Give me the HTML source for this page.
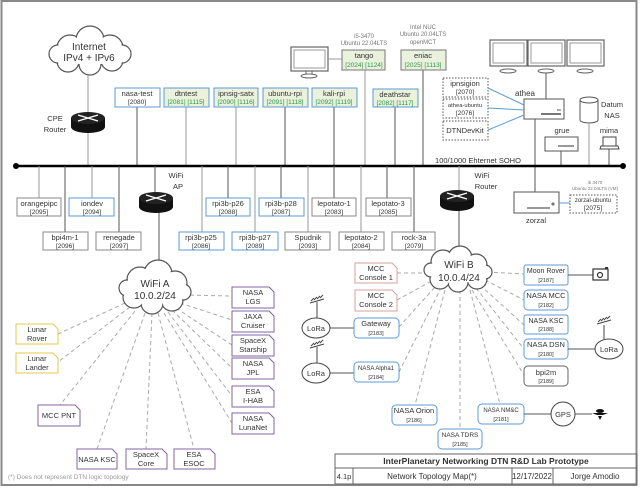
<!DOCTYPE html>
<html><head><meta charset="utf-8"><style>
html,body{margin:0;padding:0;background:#fff}
svg{display:block}
text{font-family:"Liberation Sans",sans-serif;font-size:7.5px;fill:#333;text-anchor:middle}
.g{fill:#2a9a4a}
.s{font-size:6px;fill:#777}
.b{stroke:#5b9bd5;fill:#fff;stroke-width:1}
.gr{stroke:#888;fill:#fff;stroke-width:1}
.gn{stroke:#5b9bd5;fill:#eaf1dd;stroke-width:1}
.gt{stroke:#777;fill:#eaf1dd;stroke-width:1}
.ln{stroke:#555;stroke-width:1;fill:none}
.lg{stroke:#999;stroke-width:1;fill:none}
.d{stroke:#aaa;stroke-width:1;stroke-dasharray:4,3;fill:none}
.p{stroke:#8064a2;fill:#fff}
.y{stroke:#e6c84a;fill:#fff}
.r{stroke:#d8a0a0;fill:#fff}
.dot{stroke:#555;fill:#fff;stroke-dasharray:1.5,1.5}
</style></head><body>
<svg width="640" height="488" viewBox="0 0 640 488" xmlns="http://www.w3.org/2000/svg">
<rect x="1.5" y="1" width="635" height="484" fill="#fff" stroke="#888" stroke-width="2"/>

<!-- Internet cloud -->
<g fill="#fff" stroke="#555" stroke-width="1.2">
<circle cx="70" cy="48" r="13"/><circle cx="90" cy="40" r="14"/><circle cx="110" cy="48" r="13"/><circle cx="112" cy="60" r="11"/><circle cx="90" cy="64" r="11"/><circle cx="68" cy="61" r="11"/><circle cx="58" cy="54" r="9"/><circle cx="122" cy="54" r="9"/>
</g>
<g fill="#fff"><circle cx="70" cy="48" r="12"/><circle cx="90" cy="40" r="13"/><circle cx="110" cy="48" r="12"/><circle cx="112" cy="60" r="10"/><circle cx="90" cy="64" r="10"/><circle cx="68" cy="61" r="10"/><circle cx="58" cy="54" r="8"/><circle cx="122" cy="54" r="8"/><rect x="62" y="44" width="56" height="20"/></g>
<text x="89" y="50" style="font-size:10px">Internet</text>
<text x="89" y="61" style="font-size:10px">IPv4 + IPv6</text>
<line class="lg" x1="88" y1="75" x2="88" y2="114"/>
<line class="lg" x1="88" y1="132" x2="88" y2="166"/>
<!-- CPE router -->
<g><rect x="71" y="118" width="34" height="9" fill="#111"/><ellipse cx="88" cy="127" rx="17" ry="6" fill="#111"/><ellipse cx="88" cy="118" rx="17" ry="6" fill="#222"/><path d="M78 115l20 6M98 115l-20 6" stroke="#fff" stroke-width="1.2"/></g>
<text x="55" y="121">CPE</text><text x="55" y="132">Router</text>

<!-- top boxes -->
<line class="ln" x1="137" y1="107" x2="137" y2="166"/>
<line class="lg" x1="186" y1="107" x2="186" y2="166"/>
<line class="lg" x1="236" y1="107" x2="236" y2="166"/>
<line class="ln" x1="285" y1="107" x2="285" y2="166"/>
<line class="ln" x1="334" y1="107" x2="334" y2="166"/>
<line class="lg" x1="365" y1="70" x2="365" y2="166"/>
<line class="ln" x1="395" y1="107" x2="395" y2="166"/>
<line class="ln" x1="423" y1="70" x2="423" y2="166"/>
<rect class="b" x="115" y="88" width="45" height="19"/><text x="137" y="96">nasa-test</text><text x="137" y="104" style="font-size:6.5px">[2080]</text>
<rect class="gn" x="164" y="88" width="45" height="19"/><text x="186" y="96">dtntest</text><text class="g" x="186" y="104" style="font-size:6.5px">[2081] [1115]</text>
<rect class="gn" x="214" y="88" width="44" height="19"/><text x="236" y="96">ipnsig-satx</text><text class="g" x="236" y="104" style="font-size:6.5px">[2090] [1116]</text>
<rect class="gn" x="263" y="88" width="45" height="19"/><text x="285" y="96">ubuntu-rpi</text><text class="g" x="285" y="104" style="font-size:6.5px">[2091] [1118]</text>
<rect class="gn" x="312" y="88" width="45" height="19"/><text x="334" y="96">kali-rpi</text><text class="g" x="334" y="104" style="font-size:6.5px">[2092] [1119]</text>
<rect class="gn" x="373" y="89" width="45" height="18"/><text x="395" y="97">deathstar</text><text class="g" x="395" y="105" style="font-size:6.5px">[2082] [1117]</text>

<!-- monitor + tango + eniac -->
<rect x="291" y="47" width="37" height="24" fill="#fff" stroke="#666" stroke-width="1.2"/><rect x="294" y="50" width="31" height="18" fill="none" stroke="#999"/>
<path d="M306 71v4M312 71v4" stroke="#666"/><ellipse cx="309" cy="76" rx="8" ry="2" fill="#fff" stroke="#666"/>
<line class="lg" x1="328" y1="59" x2="342" y2="59"/>
<text class="s" x="364" y="38">i5-3470</text><text class="s" x="364" y="45">Ubuntu 22.04LTS</text>
<rect class="gt" x="342" y="50" width="43" height="20"/><text x="364" y="58">tango</text><text class="g" x="364" y="67" style="font-size:6.5px">[2024] [1124]</text>
<text class="s" x="423" y="29">Intel NUC</text><text class="s" x="423" y="36">Ubuntu 20.04LTS</text><text class="s" x="423" y="44">openMCT</text>
<rect class="gt" x="401" y="50" width="45" height="20"/><text x="423" y="58">eniac</text><text class="g" x="423" y="67" style="font-size:6.5px">[2025] [1113]</text>

<!-- three monitors -->
<g fill="#fff" stroke="#666" stroke-width="1.2">
<rect x="490" y="40" width="37" height="26"/><rect x="528" y="40" width="37" height="26"/><rect x="567" y="40" width="37" height="26"/>
</g>
<g fill="none" stroke="#999"><rect x="493" y="43" width="31" height="20"/><rect x="531" y="43" width="31" height="20"/><rect x="570" y="43" width="31" height="20"/></g>
<g fill="#fff" stroke="#666"><ellipse cx="508" cy="71" rx="8" ry="2"/><ellipse cx="546" cy="71" rx="8" ry="2"/><ellipse cx="585" cy="71" rx="8" ry="2"/></g>
<line class="ln" x1="546" y1="73" x2="546" y2="99"/>
<text x="525" y="96" style="font-size:8px">athea</text>
<rect x="524" y="99" width="40" height="20" fill="#fff" stroke="#555"/><line x1="541" y1="114" x2="561" y2="114" stroke="#777" stroke-width="2"/><line x1="557" y1="110" x2="561" y2="110" stroke="#555"/>
<line class="ln" x1="535" y1="119" x2="535" y2="192"/>
<rect class="dot" x="443" y="78" width="45" height="19"/><text x="465" y="86">ipnsigion</text><text x="465" y="94" style="font-size:6.5px">[2070]</text>
<rect class="dot" x="443" y="99" width="45" height="19"/><text x="465" y="107" style="font-size:5.8px">athea-ubuntu</text><text x="465" y="115" style="font-size:6.5px">[2076]</text>
<rect class="dot" x="443" y="121" width="45" height="19"/><text x="465" y="133">DTNDevKit</text>
<g stroke="#5b9bd5" stroke-width="1"><line x1="488" y1="88" x2="524" y2="105"/><line x1="488" y1="108" x2="524" y2="110"/><line x1="488" y1="130" x2="524" y2="115"/></g>
<!-- NAS -->
<path d="M580 100v20a9 3 0 0 0 18 0v-20" fill="#fff" stroke="#555"/><ellipse cx="589" cy="100" rx="9" ry="3" fill="#fff" stroke="#555"/>
<text x="612" y="107">Datum</text><text x="612" y="118">NAS</text>
<line class="lg" x1="589" y1="123" x2="589" y2="166"/>
<text x="562" y="133">grue</text>
<rect x="545" y="137" width="33" height="14" fill="#fff" stroke="#555"/><line x1="558" y1="146" x2="574" y2="146" stroke="#777" stroke-width="1.5"/>
<line class="ln" x1="561" y1="151" x2="561" y2="166"/>
<text x="609" y="133">mima</text>
<rect x="603" y="137" width="13" height="9" fill="#fff" stroke="#444"/><path d="M601 146h17l1 3h-19z" fill="#fff" stroke="#444"/>
<line class="ln" x1="609" y1="149" x2="609" y2="166"/>
<text x="478" y="163">100/1000 Ehternet SOHO</text>

<!-- bus -->
<line x1="16" y1="166" x2="623" y2="166" stroke="#000" stroke-width="2.5"/>
<circle cx="16" cy="166" r="3" fill="#000"/><circle cx="623" cy="166" r="3" fill="#000"/>

<!-- below-bus lines -->
<g>
<line class="lg" x1="39" y1="166" x2="39" y2="198"/>
<line class="ln" x1="65" y1="166" x2="65" y2="232"/>
<line class="lg" x1="92" y1="166" x2="92" y2="198"/>
<line class="ln" x1="119" y1="166" x2="119" y2="232"/>
<line class="ln" x1="155" y1="166" x2="155" y2="196"/>
<line class="lg" x1="202" y1="166" x2="202" y2="232"/>
<line class="ln" x1="228" y1="166" x2="228" y2="198"/>
<line class="lg" x1="255" y1="166" x2="255" y2="232"/>
<line class="ln" x1="281" y1="166" x2="281" y2="198"/>
<line class="lg" x1="308" y1="166" x2="308" y2="232"/>
<line class="ln" x1="334" y1="166" x2="334" y2="198"/>
<line class="lg" x1="361" y1="166" x2="361" y2="232"/>
<line class="ln" x1="387" y1="166" x2="387" y2="198"/>
<line class="ln" x1="414" y1="166" x2="414" y2="232"/>
<line class="lg" x1="459" y1="166" x2="459" y2="192"/>
</g>
<rect class="gr" x="17" y="198" width="44" height="18"/><text x="39" y="206">orangepipc</text><text x="39" y="214" style="font-size:6.5px">[2095]</text>
<rect class="b" x="69" y="198" width="45" height="18"/><text x="92" y="206">iondev</text><text x="92" y="214" style="font-size:6.5px">[2094]</text>
<rect class="gr" x="43" y="232" width="45" height="18"/><text x="65" y="240">bpi4m-1</text><text x="65" y="248" style="font-size:6.5px">[2096]</text>
<rect class="gr" x="96" y="232" width="45" height="18"/><text x="119" y="240">renegade</text><text x="119" y="248" style="font-size:6.5px">[2097]</text>
<rect class="b" x="206" y="198" width="44" height="18"/><text x="228" y="206">rpi3b-p26</text><text x="228" y="214" style="font-size:6.5px">[2088]</text>
<rect class="b" x="259" y="198" width="45" height="18"/><text x="281" y="206">rpi3b-p28</text><text x="281" y="214" style="font-size:6.5px">[2087]</text>
<rect class="gr" x="312" y="198" width="44" height="18"/><text x="334" y="206">lepotato-1</text><text x="334" y="214" style="font-size:6.5px">[2083]</text>
<rect class="gr" x="366" y="198" width="45" height="18"/><text x="388" y="206">lepotato-3</text><text x="388" y="214" style="font-size:6.5px">[2085]</text>
<rect class="b" x="179" y="232" width="45" height="18"/><text x="201" y="240">rpi3b-p25</text><text x="201" y="248" style="font-size:6.5px">[2086]</text>
<rect class="b" x="232" y="232" width="46" height="18"/><text x="255" y="240">rpi3b-p27</text><text x="255" y="248" style="font-size:6.5px">[2089]</text>
<rect class="gr" x="285" y="232" width="45" height="18"/><text x="308" y="240">Spudnik</text><text x="308" y="248" style="font-size:6.5px">[2093]</text>
<rect class="gr" x="339" y="232" width="45" height="18"/><text x="361" y="240">lepotato-2</text><text x="361" y="248" style="font-size:6.5px">[2084]</text>
<rect class="gr" x="392" y="232" width="43" height="18"/><text x="414" y="240">rock-3a</text><text x="414" y="248" style="font-size:6.5px">[2079]</text>

<!-- WiFi AP router -->
<line class="ln" x1="159" y1="210" x2="159" y2="265"/>
<g><rect x="139" y="198" width="34" height="9" fill="#111"/><ellipse cx="156" cy="207" rx="17" ry="6" fill="#111"/><ellipse cx="156" cy="198" rx="17" ry="6" fill="#222"/><path d="M146 195l20 6M166 195l-20 6" stroke="#fff" stroke-width="1.2"/></g>
<text x="176" y="178">WiFi</text><text x="178" y="189">AP</text>
<!-- WiFi router -->
<line class="ln" x1="459" y1="210" x2="459" y2="254"/>
<g><rect x="440" y="196" width="34" height="9" fill="#111"/><ellipse cx="457" cy="205" rx="17" ry="6" fill="#111"/><ellipse cx="457" cy="196" rx="17" ry="6" fill="#222"/><path d="M447 193l20 6M467 193l-20 6" stroke="#fff" stroke-width="1.2"/></g>
<text x="482" y="178">WiFi</text><text x="486" y="189">Router</text>
<!-- zorzal -->
<rect x="514" y="192" width="45" height="21" fill="#fff" stroke="#555"/><line x1="527" y1="208" x2="550" y2="208" stroke="#777" stroke-width="1.5"/><circle cx="553" cy="204" r="1" fill="none" stroke="#555"/>
<text x="536" y="223">zorzal</text>
<line x1="559" y1="203" x2="570" y2="203" stroke="#5b9bd5"/>
<text class="s" x="595" y="184" style="font-size:4.5px">i5 3470</text><text class="s" x="595" y="190" style="font-size:4.5px">Ubuntu 22.04LTS (VM)</text>
<rect class="dot" x="570" y="195" width="47" height="18"/><text x="593" y="202" style="font-size:6px">zorzal-ubuntu</text><text x="593" y="210" style="font-size:6.5px">[2075]</text>

<!-- WiFi A dashed links -->
<g class="d">
<line x1="183" y1="295" x2="232" y2="296"/><line x1="180" y1="303" x2="232" y2="320"/><line x1="176" y1="308" x2="232" y2="345"/><line x1="172" y1="310" x2="232" y2="368"/><line x1="168" y1="312" x2="232" y2="396"/><line x1="164" y1="313" x2="232" y2="423"/>
<line x1="125" y1="303" x2="58" y2="334"/><line x1="130" y1="307" x2="58" y2="362"/><line x1="135" y1="311" x2="60" y2="405"/>
<line x1="145" y1="313" x2="97" y2="449"/><line x1="152" y1="313" x2="146" y2="449"/><line x1="158" y1="313" x2="194" y2="449"/>
</g>
<!-- WiFi A cloud -->
<g fill="#fff" stroke="#555" stroke-width="1.2">
<circle cx="140" cy="280" r="13"/><circle cx="158" cy="274" r="14"/><circle cx="175" cy="283" r="12"/><circle cx="172" cy="300" r="11"/><circle cx="152" cy="303" r="11"/><circle cx="134" cy="297" r="11"/><circle cx="127" cy="288" r="8"/><circle cx="183" cy="292" r="8"/>
</g>
<g fill="#fff"><circle cx="140" cy="280" r="12"/><circle cx="158" cy="274" r="13"/><circle cx="175" cy="283" r="11"/><circle cx="172" cy="300" r="10"/><circle cx="152" cy="303" r="10"/><circle cx="134" cy="297" r="10"/><circle cx="127" cy="288" r="7"/><circle cx="183" cy="292" r="7"/><rect x="130" y="278" width="48" height="22"/></g>
<text x="155" y="287" style="font-size:10px">WiFi A</text><text x="155" y="299" style="font-size:10px">10.0.2/24</text>

<!-- folded notes -->
<g stroke-width="1">
<path class="p" d="M232 287h37l5 5v16h-42z"/><path class="p" d="M232 311h37l5 5v16h-42z"/><path class="p" d="M232 335h37l5 5v16h-42z"/><path class="p" d="M232 358h37l5 5v16h-42z"/><path class="p" d="M232 386h37l5 5v16h-42z"/><path class="p" d="M232 413h37l5 5v16h-42z"/>
<path class="y" d="M16 324h37l5 5v15h-42z"/><path class="y" d="M16 353h37l5 5v15h-42z"/>
<path class="p" d="M38 405h37l5 5v16h-42z"/>
<path class="p" d="M77 449h35l5 5v15h-40z"/><path class="p" d="M126 449h36l5 5v15h-41z"/><path class="p" d="M174 449h36l5 5v15h-41z"/>
<path class="r" d="M355 263h37l5 5v15h-42z"/><path class="r" d="M355 290h37l5 5v16h-42z"/>
</g>
<text x="253" y="295">NASA</text><text x="253" y="304">LGS</text>
<text x="253" y="319">JAXA</text><text x="253" y="328">Cruiser</text>
<text x="253" y="343">SpaceX</text><text x="253" y="352">Starship</text>
<text x="253" y="366">NASA</text><text x="253" y="375">JPL</text>
<text x="253" y="394">ESA</text><text x="253" y="403">I-HAB</text>
<text x="253" y="421">NASA</text><text x="253" y="430">LunaNet</text>
<text x="37" y="332">Lunar</text><text x="37" y="341">Rover</text>
<text x="37" y="361">Lunar</text><text x="37" y="370">Lander</text>
<text x="59" y="418">MCC PNT</text>
<text x="97" y="462">NASA KSC</text>
<text x="146" y="457">SpaceX</text><text x="146" y="466">Core</text>
<text x="194" y="457">ESA</text><text x="194" y="466">ESOC</text>
<text x="8" y="479" style="text-anchor:start;font-size:6.5px;fill:#999">(*) Does not represent DTN logic topology</text>

<!-- WiFi B dashed links -->
<g class="d">
<line x1="397" y1="273" x2="428" y2="273"/><line x1="397" y1="300" x2="430" y2="282"/><line x1="399" y1="327" x2="435" y2="287"/><line x1="399" y1="372" x2="440" y2="290"/>
<line x1="445" y1="290" x2="415" y2="405"/><line x1="460" y1="290" x2="460" y2="429"/><line x1="470" y1="290" x2="500" y2="404"/>
<line x1="487" y1="272" x2="524" y2="274"/><line x1="485" y1="280" x2="524" y2="300"/><line x1="480" y1="285" x2="524" y2="325"/><line x1="476" y1="288" x2="524" y2="349"/><line x1="472" y1="290" x2="524" y2="375"/>
</g>
<!-- WiFi B cloud -->
<g fill="#fff" stroke="#555" stroke-width="1.2">
<circle cx="443" cy="262" r="12"/><circle cx="460" cy="258" r="12"/><circle cx="476" cy="265" r="11"/><circle cx="477" cy="279" r="10"/><circle cx="458" cy="282" r="10"/><circle cx="440" cy="279" r="10"/><circle cx="431" cy="270" r="7"/><circle cx="485" cy="272" r="7"/>
</g>
<g fill="#fff"><circle cx="443" cy="262" r="11"/><circle cx="460" cy="258" r="11"/><circle cx="476" cy="265" r="10"/><circle cx="477" cy="279" r="9"/><circle cx="458" cy="282" r="9"/><circle cx="440" cy="279" r="9"/><circle cx="431" cy="270" r="6"/><circle cx="485" cy="272" r="6"/><rect x="434" y="260" width="46" height="22"/></g>
<text x="459" y="268" style="font-size:10px">WiFi B</text><text x="459" y="281" style="font-size:10px">10.0.4/24</text>

<text x="376" y="271">MCC</text><text x="376" y="280">Console 1</text>
<text x="376" y="298">MCC</text><text x="376" y="307">Console 2</text>

<!-- LoRa left -->
<line class="ln" x1="330" y1="328" x2="354" y2="328"/><line class="ln" x1="330" y1="373" x2="354" y2="373"/>
<g fill="#fff" stroke="#444"><ellipse cx="316" cy="328" rx="14" ry="10"/><ellipse cx="316" cy="373" rx="14" ry="10"/></g>
<text x="316" y="331">LoRa</text><text x="316" y="376">LoRa</text>
<g stroke="#444" fill="none"><path d="M317 318v-16M310 303l14-4M311 301l3-3M314 300l3-3M317 299l3-3M320 298l3-3"/><path d="M317 363v-16M310 348l14-4M311 346l3-3M314 345l3-3M317 344l3-3M320 343l3-3"/></g>
<!-- rounded boxes -->
<g class="b"><rect x="354" y="318" width="45" height="20" rx="4"/><rect x="354" y="362" width="45" height="20" rx="4"/>
<rect x="524" y="265" width="44" height="20" rx="2"/><rect x="524" y="290" width="44" height="20" rx="4"/><rect x="524" y="315" width="44" height="19" rx="2"/><rect x="524" y="339" width="44" height="20" rx="4"/>
<rect x="392" y="405" width="45" height="20" rx="4"/><rect x="438" y="429" width="44" height="20" rx="4"/><rect x="478" y="404" width="46" height="20" rx="4"/></g>
<rect x="524" y="366" width="44" height="20" rx="4" fill="#fff" stroke="#666"/>
<text x="376" y="326">Gateway</text><text x="376" y="335" style="font-size:5.5px">[2183]</text>
<text x="376" y="370" style="font-size:6px">NASA Alpha1</text><text x="376" y="379" style="font-size:5.5px">[2184]</text>
<text x="546" y="273" style="font-size:7px">Moon Rover</text><text x="546" y="282" style="font-size:5.5px">[2187]</text>
<text x="546" y="298">NASA MCC</text><text x="546" y="307" style="font-size:5.5px">[2182]</text>
<text x="546" y="323" style="font-size:7px">NASA KSC</text><text x="546" y="331" style="font-size:5.5px">[2188]</text>
<text x="546" y="347">NASA DSN</text><text x="546" y="356" style="font-size:5.5px">[2180]</text>
<text x="546" y="375">bpi2m</text><text x="546" y="383" style="font-size:5.5px">[2189]</text>
<text x="414" y="413">NASA Orion</text><text x="414" y="422" style="font-size:5.5px">[2186]</text>
<text x="460" y="437" style="font-size:6.5px">NASA TDRS</text><text x="460" y="446" style="font-size:5.5px">[2185]</text>
<text x="501" y="412" style="font-size:6px">NASA NM&amp;C</text><text x="501" y="421" style="font-size:5.5px">[2181]</text>
<!-- right side devices -->
<line class="ln" x1="568" y1="275" x2="593" y2="275"/>
<rect x="593" y="269" width="15" height="11" fill="#fff" stroke="#333" stroke-width="1.2"/><circle cx="600" cy="275" r="2.5" fill="none" stroke="#333" stroke-width="1.2"/><rect x="605" y="267" width="3" height="2" fill="#333"/>
<line class="ln" x1="568" y1="349" x2="595" y2="349"/>
<ellipse cx="609" cy="349" rx="14" ry="10" fill="#fff" stroke="#444"/><text x="609" y="352">LoRa</text>
<g stroke="#444" fill="none"><path d="M604 339v-14M597 324l14-4M598 322l3-3M601 321l3-3M604 320l3-3M607 319l3-3"/></g>
<line class="ln" x1="524" y1="414" x2="551" y2="414"/><line class="ln" x1="575" y1="414" x2="592" y2="414"/>
<circle cx="563" cy="414" r="12" fill="#fff" stroke="#444"/><text x="563" y="417">GPS</text>
<path d="M592 413h16l-5 2h-6z" fill="#111"/><ellipse cx="600" cy="411" rx="4" ry="2" fill="#111"/><path d="M598 416l2 4 2-4z" fill="#111"/>

<!-- title block -->
<g fill="none" stroke="#666" stroke-width="1">
<rect x="335" y="454" width="302" height="30"/><line x1="335" y1="468" x2="637" y2="468"/>
<line x1="353" y1="468" x2="353" y2="484"/><line x1="512" y1="468" x2="512" y2="484"/><line x1="553" y1="468" x2="553" y2="484"/>
</g>
<text x="486" y="464" style="font-size:8.5px;font-weight:bold;fill:#333">InterPlanetary Networking DTN R&amp;D Lab Prototype</text>
<text x="344" y="479" style="font-size:7.5px">4.1p</text>
<text x="432" y="479" style="font-size:8px">Network Topology Map(*)</text>
<text x="532" y="479" style="font-size:8px">12/17/2022</text>
<text x="595" y="479" style="font-size:8px">Jorge Amodio</text>
</svg>
</body></html>
